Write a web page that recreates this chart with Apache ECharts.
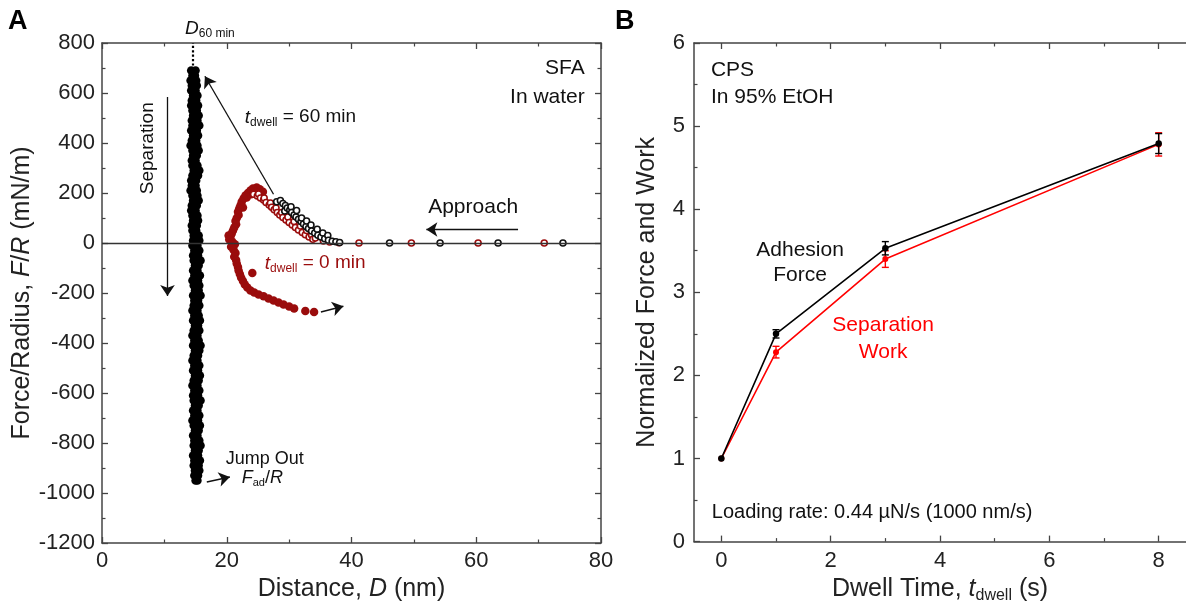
<!DOCTYPE html>
<html><head><meta charset="utf-8">
<script src="https://cdn.jsdelivr.net/npm/echarts@6/dist/echarts.min.js"></script>
<style>html,body{margin:0;padding:0;background:#fff}#c{width:1186px;height:609px}</style>
</head><body><div id="c"></div>
<script>
// ---------- Panel A data (SFA force-distance) ----------
// t_dwell = 60 min separation (filled black), rows of F with two D readings
const sep60F = [690,670,650,630,610,590,570,550,530,510,490,470,450,430,410,390,370,350,330,310,290,270,250,230,210,190,170,150,130,110,90,70,50,30,10,-10,-30,-50,-70,-90,-110,-130,-150,-170,-190,-210,-230,-250,-270,-290,-310,-330,-350,-370,-390,-410,-430,-450,-470,-490,-510,-530,-550,-570,-590,-610,-630,-650,-670,-690,-710,-730,-750,-770,-790,-810,-830,-850,-870,-890,-910,-930,-950];
const sep60DL = [14.3,14.5,14.2,14.4,14.3,14.6,14.4,14.3,14.5,14.6,14.4,14.5,14.3,14.6,14.4,14.2,14.5,14.6,14.4,14.5,14.7,14.5,14.3,14.4,14.2,14.5,14.6,14.4,14.3,14.5,14.6,14.4,14.5,14.7,14.6,14.5,14.8,14.6,14.7,14.9,14.6,14.8,14.5,14.7,14.9,14.6,14.8,14.7,14.5,14.8,14.6,14.9,14.7,14.5,14.8,14.6,14.9,14.7,14.5,14.8,14.6,14.9,14.7,14.5,14.8,14.6,14.7,14.9,14.6,14.8,14.5,14.7,14.9,14.6,14.8,14.7,14.9,14.6,14.8,14.7,14.9,14.8,15.0];
const sep60DR = [15.0,14.9,15.1,15.2,15.0,15.3,15.1,15.4,15.2,15.5,15.3,15.6,15.2,15.4,15.1,15.3,15.5,15.2,15.0,15.3,15.6,15.4,15.1,15.0,15.2,15.3,15.5,15.2,15.0,15.3,15.4,15.2,15.1,15.5,15.6,15.3,15.6,15.4,15.8,15.5,15.3,15.7,15.4,15.6,15.5,15.8,15.4,15.6,15.3,15.5,15.7,15.4,15.6,15.3,15.5,15.8,15.6,15.4,15.3,15.6,15.4,15.7,15.5,15.3,15.6,15.4,15.8,15.5,15.3,15.6,15.4,15.7,15.5,15.3,15.6,15.8,15.5,15.4,15.7,15.5,15.6,15.4,15.3];
// t_dwell = 0 min separation (filled dark red) [D, F]
const sep0 = [[25.3,215],[24.8,222],[24.2,218],[25.8,205],[24.5,205],[23.8,210],[23.9,195],[23.4,200],[23.0,190],[23.2,182],[22.7,178],[22.4,165],[22.2,150],[22.6,142],[22.0,138],[21.8,125],[21.9,112],[21.6,100],[21.4,88],[21.5,75],[21.2,62],[21.0,50],[20.8,38],[20.6,26],[20.3,30],[20.4,14],[20.9,5],[21.3,-5],[20.7,-15],[21.1,-28],[21.4,-40],[21.2,-55],[21.5,-68],[21.6,-82],[21.8,-96],[21.9,-110],[22.1,-124],[22.3,-138],[22.6,-152],[22.9,-166],[23.3,-178],[23.8,-190],[24.4,-198],[25.1,-206],[25.9,-213],[26.7,-222],[27.5,-230],[28.3,-238],[29.1,-246],[30.0,-254],[30.8,-262],[32.6,-272],[34.0,-276],[24.1,-120]];
// t_dwell = 0 min approach (open dark red)
const app0 = [[24.3,195],[24.9,188],[25.1,196],[25.4,180],[25.9,172],[26.0,180],[26.3,162],[26.8,152],[27.0,160],[27.2,143],[27.6,133],[27.9,140],[28.1,122],[28.5,112],[28.8,122],[29.0,102],[29.5,92],[29.8,104],[30.0,82],[30.5,72],[30.8,86],[31.0,62],[31.5,52],[31.8,68],[32.1,42],[32.6,33],[32.8,50],[33.2,24],[33.6,32],[33.8,15],[34.2,20],[35.5,8],[36.5,4],[38.0,1],[41.2,0],[49.6,0],[60.3,0],[70.9,0]];
// t_dwell = 60 min approach (open black)
const app60 = [[28.0,165],[28.6,170],[29.0,158],[29.3,128],[29.4,150],[29.7,140],[30.1,132],[30.3,145],[30.4,122],[30.8,112],[31.1,104],[31.2,130],[31.5,95],[31.9,86],[32.0,100],[32.3,76],[32.7,66],[32.8,88],[33.1,58],[33.5,72],[33.6,48],[34.1,40],[34.5,55],[34.6,31],[35.1,24],[35.4,40],[35.7,17],[36.2,30],[36.3,11],[36.9,7],[37.5,5],[38.1,2],[46.1,0],[54.2,0],[63.5,0],[73.9,0]];

// ---------- Panel B data ----------
const dwellTimes = [0, 1, 3, 8];
const adhesionForce = [1.0, 2.50, 3.53, 4.79];
const adhesionErr = [0.0, 0.05, 0.08, 0.12];
const separationWork = [1.0, 2.28, 3.40, 4.78];
const separationErr = [0.0, 0.07, 0.10, 0.14];

const FONT = '"Liberation Sans", Arial, sans-serif';
const DARKRED = '#9a0c0c';
const AX = '#444';

const chart = echarts.init(document.getElementById('c'), null, {renderer: 'canvas'});

function richSet(size, color) {
  return {
    n: {fontSize: size, fontFamily: FONT, color: color},
    i: {fontSize: size, fontFamily: FONT, fontStyle: 'italic', color: color},
    s: {fontSize: Math.round(size * 0.62), fontFamily: FONT, color: color, padding: [Math.round(size * 0.55), 0, 0, 0]}
  };
}

const axLine = {show: true, onZero: false, lineStyle: {color: AX, width: 1.5}};
const plainNum = v => String(v);
function xA(grid, pos, opts) {
  return Object.assign({
    gridIndex: grid, type: 'value', position: pos,
    axisLine: axLine, splitLine: {show: false},
    axisTick: {show: true, inside: true, length: 6, lineStyle: {color: AX, width: 1.3}},
    minorTick: {show: true, splitNumber: 2, length: 3.5, lineStyle: {color: AX, width: 1.2}},
    axisLabel: {show: false}
  }, opts);
}

const sep60Data = [];
sep60F.forEach((f, k) => { sep60Data.push([sep60DL[k], f]); sep60Data.push([sep60DR[k], f]); });

const arrowLines = [
  [{coord: [10.5, 584], symbol: 'none'}, {coord: [10.5, -212], symbol: 'arrow'}],
  [{coord: [27.5, 195], symbol: 'none'}, {coord: [16.5, 667], symbol: 'arrow'}],
  [{coord: [66.7, 54], symbol: 'none'}, {coord: [52.0, 54], symbol: 'arrow'}],
  [{coord: [35.1, -276], symbol: 'none'}, {coord: [38.7, -253], symbol: 'arrow'}],
  [{coord: [16.8, -956], symbol: 'none'}, {coord: [20.5, -936], symbol: 'arrow'}]
];

function errItem(color) {
  return function (params, api) {
    const x = api.value(0), y = api.value(1), e = api.value(2);
    if (!e) return null;
    const t = api.coord([x, y + e]), b = api.coord([x, y - e]);
    const w = 3.5;
    const st = {stroke: color, lineWidth: 1.4};
    return {type: 'group', children: [
      {type: 'line', shape: {x1: t[0], y1: t[1], x2: b[0], y2: b[1]}, style: st},
      {type: 'line', shape: {x1: t[0] - w, y1: t[1], x2: t[0] + w, y2: t[1]}, style: st},
      {type: 'line', shape: {x1: b[0] - w, y1: b[1], x2: b[0] + w, y2: b[1]}, style: st}
    ]};
  };
}

const option = {
  animation: false,
  backgroundColor: '#fff',
  textStyle: {fontFamily: FONT},
  grid: [
    {left: 102, top: 43, width: 499, height: 500, containLabel: false},
    {left: 694, top: 43, width: 499, height: 500, containLabel: false}
  ],
  xAxis: [
    xA(0, 'bottom', {min: 0, max: 80, interval: 20,
      axisLabel: {show: true, fontSize: 22, color: '#222', margin: 7, fontFamily: FONT, formatter: plainNum},
      name: '{n|Distance, }{i|D}{n| (nm)}', nameLocation: 'middle', nameGap: 32,
      nameTextStyle: {fontSize: 25, color: '#222', rich: richSet(25, '#222')}}),
    xA(0, 'top', {min: 0, max: 80, interval: 20}),
    xA(1, 'bottom', {min: -0.5, max: 8.5, minorTick: {show: false},
      axisTick: {show: true, inside: true, length: 6, customValues: [0, 2, 4, 6, 8], lineStyle: {color: AX, width: 1.3}},
      axisLabel: {show: true, fontSize: 22, color: '#222', margin: 8, fontFamily: FONT, customValues: [0, 2, 4, 6, 8], formatter: plainNum},
      name: '{n|Dwell Time, }{i|t}{s|dwell}{n| (s)}', nameLocation: 'middle', nameGap: 32,
      nameTextStyle: {fontSize: 25, color: '#222', rich: richSet(25, '#222')}}),
    xA(1, 'bottom', {min: -0.5, max: 8.5, minorTick: {show: false}, axisLine: {show: false, onZero: false},
      axisTick: {show: true, inside: true, length: 3.5, customValues: [1, 3, 5, 7], lineStyle: {color: AX, width: 1.2}}}),
    xA(1, 'top', {min: -0.5, max: 8.5, minorTick: {show: false},
      axisTick: {show: true, inside: true, length: 6, customValues: [0, 2, 4, 6, 8], lineStyle: {color: AX, width: 1.3}}}),
    xA(1, 'top', {min: -0.5, max: 8.5, minorTick: {show: false}, axisLine: {show: false, onZero: false},
      axisTick: {show: true, inside: true, length: 3.5, customValues: [1, 3, 5, 7], lineStyle: {color: AX, width: 1.2}}})
  ],
  yAxis: [
    xA(0, 'left', {min: -1200, max: 800, interval: 200,
      axisLabel: {show: true, fontSize: 22, color: '#222', margin: 7, fontFamily: FONT, formatter: plainNum},
      name: '{n|Force/Radius, }{i|F}{n|/}{i|R}{n| (mN/m)}', nameLocation: 'middle', nameGap: 62,
      nameTextStyle: {fontSize: 25, color: '#222', rich: richSet(25, '#222')}}),
    xA(0, 'right', {min: -1200, max: 800, interval: 200}),
    xA(1, 'left', {min: 0, max: 6, interval: 1,
      axisLabel: {show: true, fontSize: 22, color: '#222', margin: 9, fontFamily: FONT, formatter: plainNum},
      name: 'Normalized Force and Work', nameLocation: 'middle', nameGap: 34,
      nameTextStyle: {fontSize: 25, color: '#222', fontFamily: FONT}})
  ],
  series: [
    {type: 'scatter', xAxisIndex: 0, yAxisIndex: 0, data: [], silent: true, z: 1,
      markLine: {silent: true, symbol: 'none', label: {show: false}, animation: false,
        lineStyle: {color: '#333', width: 1.3, type: 'solid'},
        data: [{yAxis: 0}]}},
    {type: 'scatter', xAxisIndex: 0, yAxisIndex: 0, data: sep60Data, symbolSize: 8.5,
      itemStyle: {color: '#000', opacity: 1}, z: 3},
    {type: 'scatter', xAxisIndex: 0, yAxisIndex: 0, data: sep0, symbolSize: 8.5,
      itemStyle: {color: DARKRED, opacity: 1}, z: 3},
    {type: 'scatter', xAxisIndex: 0, yAxisIndex: 0, data: app0, symbolSize: 6,
      itemStyle: {color: '#fff', borderColor: DARKRED, borderWidth: 1.6, opacity: 1}, z: 4},
    {type: 'scatter', xAxisIndex: 0, yAxisIndex: 0, data: app60, symbolSize: 6,
      itemStyle: {color: '#fff', borderColor: '#111', borderWidth: 1.6, opacity: 1}, z: 4},
    {type: 'scatter', xAxisIndex: 0, yAxisIndex: 0, data: [], silent: true, z: 5,
      markLine: {silent: true, label: {show: false}, animation: false, symbolSize: 11,
        lineStyle: {color: '#111', width: 1.3, type: 'solid'},
        data: arrowLines.concat([[{coord: [14.6, 692], symbol: 'none', lineStyle: {type: 'dotted', width: 2.2, color: '#000'}}, {coord: [14.6, 800], symbol: 'none'}]])}},
    // Panel B
    {type: 'custom', xAxisIndex: 2, yAxisIndex: 2, renderItem: errItem('#ff0000'), z: 3,
      data: dwellTimes.map((t, k) => [t, separationWork[k], separationErr[k]]), encode: {x: 0, y: 1}},
    {type: 'line', xAxisIndex: 2, yAxisIndex: 2, data: dwellTimes.map((t, k) => [t, separationWork[k]]),
      symbol: 'circle', symbolSize: 6, lineStyle: {color: '#ff0000', width: 1.6},
      itemStyle: {color: '#ff0000'}, z: 4},
    {type: 'custom', xAxisIndex: 2, yAxisIndex: 2, renderItem: errItem('#000'), z: 5,
      data: dwellTimes.map((t, k) => [t, adhesionForce[k], adhesionErr[k]]), encode: {x: 0, y: 1}},
    {type: 'line', xAxisIndex: 2, yAxisIndex: 2, data: dwellTimes.map((t, k) => [t, adhesionForce[k]]),
      symbol: 'circle', symbolSize: 6.5, lineStyle: {color: '#000', width: 1.6},
      itemStyle: {color: '#000'}, z: 6}
  ]
};
chart.setOption(option);

// ---------- annotations anchored in data coordinates ----------
function pA(x, y) { return chart.convertToPixel({seriesIndex: 1}, [x, y]); }
function pB(x, y) { return chart.convertToPixel({seriesIndex: 7}, [x, y]); }
function txt(p, text, opts) {
  const o = opts || {};
  const size = o.size || 21, color = o.color || '#111';
  return {type: 'text', x: p[0], y: p[1], rotation: o.rot || 0, z: 100,
    style: {text: text, fill: color, font: (o.weight || 'normal') + ' ' + size + 'px ' + FONT,
      align: o.align || 'center', verticalAlign: 'middle', rich: richSet(size, color)}};
}
const g = [
  {type: 'text', x: 8, y: 22, z: 100, style: {text: 'A', fill: '#000', font: 'bold 27px ' + FONT, verticalAlign: 'middle'}},
  {type: 'text', x: 615, y: 22, z: 100, style: {text: 'B', fill: '#000', font: 'bold 27px ' + FONT, verticalAlign: 'middle'}},
  txt(pA(17.3, 859), '{i|D}{s|60 min}', {size: 19}),
  txt(pA(77.4, 699), 'SFA', {size: 21, align: 'right'}),
  txt(pA(77.4, 584), 'In water', {size: 21, align: 'right'}),
  txt(pA(22.9, 503), '{i|t}{s|dwell}{n| = 60 min}', {size: 19, align: 'left'}),
  txt(pA(59.5, 144), 'Approach', {size: 21}),
  txt(pA(26.1, -81), '{i|t}{s|dwell}{n| = 0 min}', {size: 19, align: 'left', color: DARKRED}),
  txt(pA(7.3, 379), 'Separation', {size: 19, rot: Math.PI / 2}),
  txt(pA(26.1, -866), 'Jump Out', {size: 18}),
  txt(pA(25.7, -941), '{i|F}{s|ad}{n|/}{i|R}', {size: 18}),
  txt(pB(-0.19, 5.67), 'CPS', {size: 21, align: 'left'}),
  txt(pB(-0.19, 5.35), 'In 95% EtOH', {size: 21, align: 'left'}),
  txt(pB(1.44, 3.51), 'Adhesion', {size: 21}),
  txt(pB(1.44, 3.21), 'Force', {size: 21}),
  txt(pB(2.96, 2.61), 'Separation', {size: 21, color: '#ff0000'}),
  txt(pB(2.96, 2.28), 'Work', {size: 21, color: '#ff0000'}),
  txt(pB(-0.175, 0.35), 'Loading rate: 0.44 µN/s (1000 nm/s)', {size: 20, align: 'left'})
];
chart.setOption({graphic: g});
</script></body></html>
